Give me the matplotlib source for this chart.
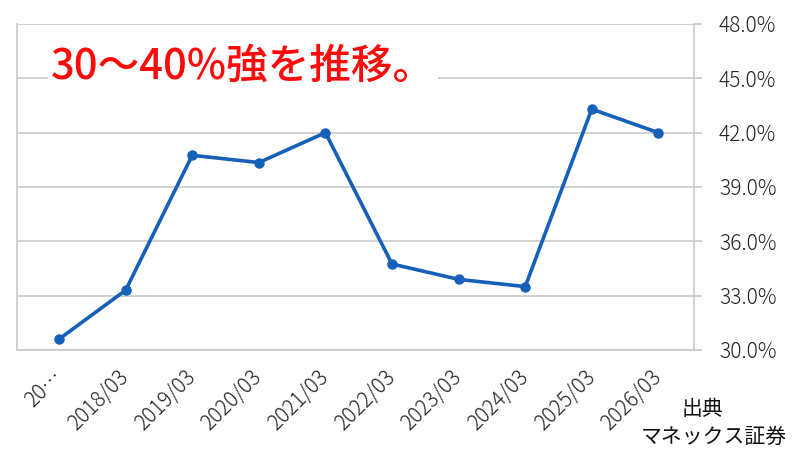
import matplotlib
matplotlib.use("Agg")
import matplotlib.pyplot as plt
from matplotlib.ticker import FuncFormatter

plt.rcParams['font.family'] = ['Noto Sans CJK JP', 'DejaVu Sans']

categories = ["20…", "2018/03", "2019/03", "2020/03", "2021/03",
              "2022/03", "2023/03", "2024/03", "2025/03", "2026/03"]
values = [30.6, 33.3, 40.75, 40.35, 42.0, 34.75, 33.9, 33.5, 43.3, 42.0]
y_ticks = [30, 33, 36, 39, 42, 45, 48]

title_text = "30～40%強を推移。"
source_lines = ["出典", "マネックス証券"]

line_color = "#1560b8"
grid_color = "#c9c9c9"
text_color = "#222222"

fig = plt.figure(figsize=(8, 4.5), dpi=100)
ax = fig.add_axes([17 / 800, 100 / 450, 677 / 800, 326 / 450])

xs = list(range(len(categories)))
ax.plot(xs, values, color=line_color, lw=2.6, marker='o', ms=6.5,
        solid_joinstyle='round', zorder=3, clip_on=False)

ax.set_ylim(30, 48)
ax.set_xlim(-0.631, 9.535)
ax.set_yticks(y_ticks)
ax.yaxis.set_major_formatter(FuncFormatter(lambda v, p: f"{v:.1f}%"))
ax.yaxis.tick_right()
ax.grid(axis='y', color=grid_color, lw=1.2, zorder=0)

ax.set_xticks(xs)
ax.set_xticklabels(categories, rotation=45, ha='right', va='center',
                   rotation_mode='anchor')

ax.tick_params(axis='y', right=True, left=False, length=6, width=1.2,
               color=grid_color, pad=12, labelsize=15, labelcolor=text_color)
ax.tick_params(axis='x', bottom=False, length=0, pad=17, labelsize=15,
               labelcolor=text_color)
for lab in ax.get_yticklabels() + ax.get_xticklabels():
    lab.set_fontweight('light')

for side in ['left', 'right', 'bottom']:
    ax.spines[side].set_color(grid_color)
    ax.spines[side].set_linewidth(1.2)
ax.spines['top'].set_visible(False)

fig.text(51 / 800, 1 - 66 / 450, title_text, color='#ff0a0a', fontsize=30,
         fontweight='medium', ha='left', va='center',
         bbox=dict(facecolor='white', edgecolor='none', pad=2))

fig.text(702 / 800, 1 - 409 / 450, source_lines[0], color='#111111',
         fontsize=15, ha='center', va='center')
fig.text(714 / 800, 1 - 437 / 450, source_lines[1], color='#111111',
         fontsize=15, ha='center', va='center')

fig.savefig("out.png", dpi=100, facecolor='white')
